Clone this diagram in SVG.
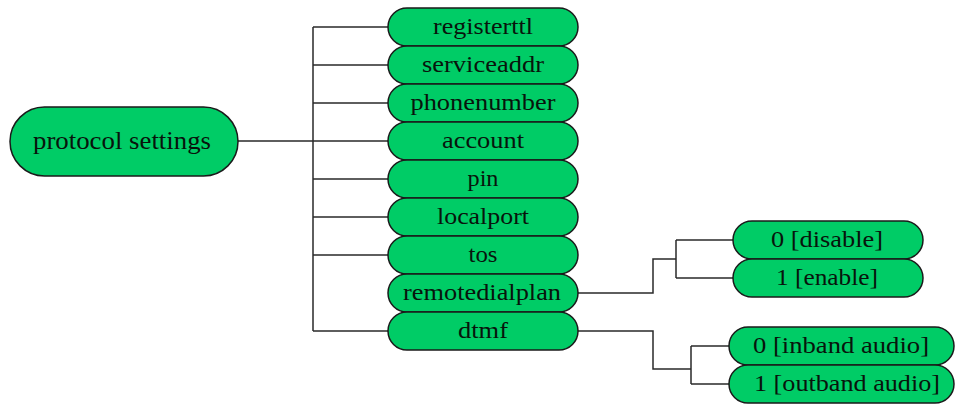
<svg xmlns="http://www.w3.org/2000/svg" width="956" height="406" viewBox="0 0 956 406">
<style>
.n{fill:#00cc66;stroke:#1a1a1a;stroke-width:1.5}
.t{font-family:"Liberation Serif","Times New Roman",serif;font-size:23px;fill:#08140c;text-anchor:middle}
.r{font-size:26px}
.c{fill:none;stroke:#2a2a2a;stroke-width:1.5}
</style>
<g id="connectors">
<path class="c" d="M238,141 H313 M313,27 V331 M313,27 H388 M313,65 H388 M313,103 H388 M313,141 H388 M313,179 H388 M313,217 H388 M313,255 H388 M313,331 H388"/>
<path class="c" d="M578,293 H653 V259 H676 M676,240 V278 M676,240 H733 M676,278 H733"/>
<path class="c" d="M578,331 H653 V369 H691 M691,346 V384 M691,346 H729 M691,384 H729"/>
</g>
<g id="root"><rect class="n" x="10" y="107" width="228" height="69" rx="34.5"/><text class="t r" x="122" y="149" textLength="178" lengthAdjust="spacingAndGlyphs">protocol settings</text></g>
<g id="registerttl"><rect class="n" x="388" y="8" width="190" height="38" rx="19"/><text class="t" x="483" y="34" textLength="100" lengthAdjust="spacingAndGlyphs">registerttl</text></g>
<g id="serviceaddr"><rect class="n" x="388" y="46" width="190" height="38" rx="19"/><text class="t" x="483" y="72" textLength="122" lengthAdjust="spacingAndGlyphs">serviceaddr</text></g>
<g id="phonenumber"><rect class="n" x="388" y="84" width="190" height="38" rx="19"/><text class="t" x="483" y="110" textLength="145" lengthAdjust="spacingAndGlyphs">phonenumber</text></g>
<g id="account"><rect class="n" x="388" y="122" width="190" height="38" rx="19"/><text class="t" x="483" y="148" textLength="82" lengthAdjust="spacingAndGlyphs">account</text></g>
<g id="pin"><rect class="n" x="388" y="160" width="190" height="38" rx="19"/><text class="t" x="483" y="186" textLength="31" lengthAdjust="spacingAndGlyphs">pin</text></g>
<g id="localport"><rect class="n" x="388" y="198" width="190" height="38" rx="19"/><text class="t" x="483" y="224" textLength="92" lengthAdjust="spacingAndGlyphs">localport</text></g>
<g id="tos"><rect class="n" x="388" y="236" width="190" height="38" rx="19"/><text class="t" x="483" y="262" textLength="29" lengthAdjust="spacingAndGlyphs">tos</text></g>
<g id="remotedialplan"><rect class="n" x="388" y="274" width="190" height="38" rx="19"/><text class="t" x="482" y="300" textLength="158" lengthAdjust="spacingAndGlyphs">remotedialplan</text></g>
<g id="dtmf"><rect class="n" x="388" y="312" width="190" height="38" rx="19"/><text class="t" x="483" y="338" textLength="50" lengthAdjust="spacingAndGlyphs">dtmf</text></g>
<g id="disable"><rect class="n" x="733" y="221" width="190" height="38" rx="19"/><text class="t" x="827" y="247" textLength="112" lengthAdjust="spacingAndGlyphs">0 [disable]</text></g>
<g id="enable"><rect class="n" x="733" y="259" width="190" height="38" rx="19"/><text class="t" x="827" y="285" textLength="102" lengthAdjust="spacingAndGlyphs">1 [enable]</text></g>
<g id="inband"><rect class="n" x="729" y="327" width="225" height="38" rx="19"/><text class="t" x="841" y="353" textLength="176" lengthAdjust="spacingAndGlyphs">0 [inband audio]</text></g>
<g id="outband"><rect class="n" x="729" y="365" width="225" height="38" rx="19"/><text class="t" x="847" y="391" textLength="186" lengthAdjust="spacingAndGlyphs">1 [outband audio]</text></g>
</svg>
